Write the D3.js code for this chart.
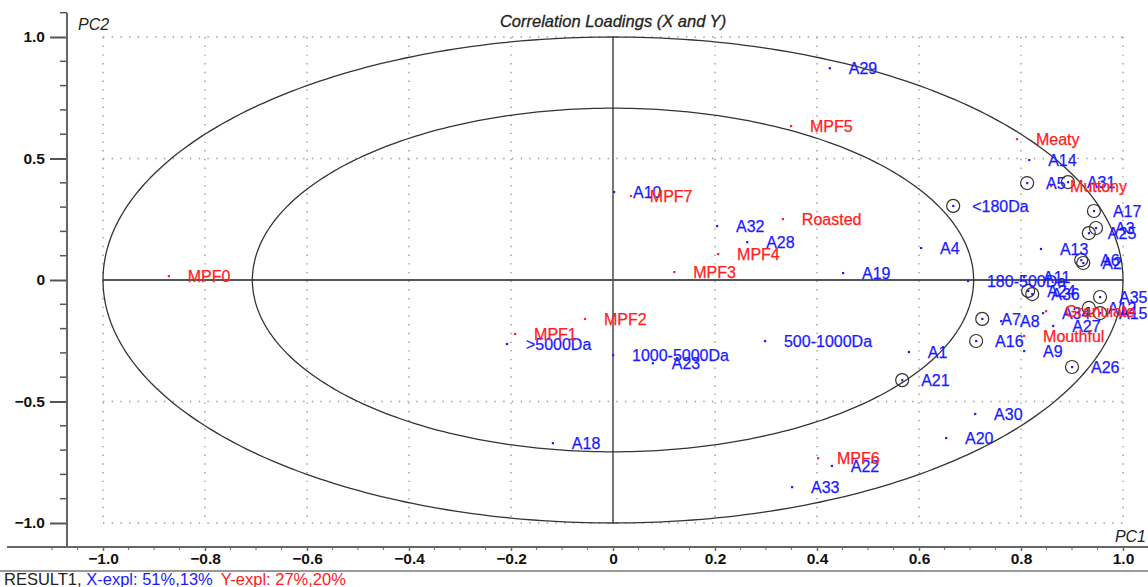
<!DOCTYPE html>
<html>
<head>
<meta charset="utf-8">
<script src="https://cdn.jsdelivr.net/npm/d3@7"></script>
<style>
  body { margin: 0; background: #fff; }
  svg { display: block; font-family: "Liberation Sans", Arial, sans-serif; }
</style>
</head>
<body>
<svg id="chart" width="1148" height="587"></svg>
<script>
// X variables (blue)
const xNames = ['A1','A2','A3','A4','A5','A6','A7','A8','A9','A10','A11','A12','A13','A14','A15','A16','A17','A18',
  'A19','A20','A21','A22','A23','A24','A25','A26','A27','A28','A29','A30','A31','A32','A33','A34','A35','A36',
  '<180Da','180-500Da','500-1000Da','1000-5000Da','>5000Da'];
const xPC1 = [0.580,0.922,0.947,0.604,0.812,0.918,0.724,0.761,0.806,0.002,0.806,0.933,0.839,0.816,0.955,0.712,0.943,-0.118,
  0.451,0.653,0.567,0.429,0.078,0.814,0.933,0.900,0.863,0.263,0.425,0.710,0.892,0.204,0.351,0.843,0.955,0.822,
  0.667,0.696,0.298,0.000,-0.208];
const xPC2 = [-0.296,0.070,0.214,0.132,0.399,0.082,-0.160,-0.169,-0.292,0.362,0.012,-0.115,0.128,0.494,-0.136,-0.251,0.284,-0.671,
  0.029,-0.650,-0.412,-0.765,-0.342,-0.045,0.193,-0.358,-0.189,0.156,0.872,-0.551,0.403,0.222,-0.852,-0.136,-0.070,-0.058,
  0.305,-0.004,-0.251,-0.309,-0.263];
const xCircled = ['A2','A3','A5','A6','A7','A12','A15','A16','A17','A21','A24','A25','A26','A31','A35','A36','<180Da'];

// Y variables (red)
const yNames = ['MPF0','MPF1','MPF2','MPF3','MPF4','MPF5','MPF6','MPF7','Roasted','Meaty','Muttony','Mouthful','Granulate'];
const yPC1 = [-0.871,-0.192,-0.055,0.120,0.206,0.349,0.402,0.035,0.333,0.792,0.859,0.806,0.849];
const yPC2 = [0.016,-0.222,-0.160,0.033,0.107,0.634,-0.733,0.346,0.251,0.580,0.387,-0.230,-0.128];

const xTicks = [-1.0,-0.8,-0.6,-0.4,-0.2,0,0.2,0.4,0.6,0.8,1.0];
const yTicks = [-1.0,-0.5,0,0.5,1.0];

const svg = d3.select('#chart');
const W = 1148, H = 587;
const x = d3.scaleLinear().domain([-1, 1]).range([103, 1123]);
const y = d3.scaleLinear().domain([-1, 1]).range([523, 37]);
const axisX = 67, axisY = 547;

// dotted grid
const grid = svg.append('g').attr('stroke', '#9a9a9a').attr('stroke-width', 1.4)
  .attr('stroke-dasharray', '1.4,7.3').attr('fill', 'none');
grid.selectAll('line.v').data(xTicks.filter(d => d !== 0)).enter().append('line')
  .attr('x1', d => x(d)).attr('x2', d => x(d)).attr('y1', y(1)).attr('y2', y(-1));
grid.selectAll('line.h').data(yTicks.filter(d => d !== 0)).enter().append('line')
  .attr('x1', x(-1)).attr('x2', x(1)).attr('y1', d => y(d)).attr('y2', d => y(d));

// zero lines
svg.append('line').attr('x1', x(-1)).attr('x2', x(1)).attr('y1', y(0)).attr('y2', y(0))
  .attr('stroke', '#555').attr('stroke-width', 2);
svg.append('line').attr('x1', x(0)).attr('x2', x(0)).attr('y1', y(1)).attr('y2', y(-1))
  .attr('stroke', '#555').attr('stroke-width', 1.6);

// correlation ellipses (r = 1 and r = sqrt(0.5))
const ring = r => d3.line().curve(d3.curveLinearClosed)(
  d3.range(0, 360, 1).map(a => [x(r * Math.cos(a * Math.PI / 180)), y(r * Math.sin(a * Math.PI / 180))]));
[1, Math.SQRT1_2].forEach(r => {
  svg.append('path').attr('d', ring(r)).attr('fill', 'none').attr('stroke', '#333').attr('stroke-width', 1.3);
});

// left axis
const yAx = d3.axisLeft(y).tickValues(yTicks).tickFormat(d => d === 0 ? '0' : d3.format('.1f')(d))
  .tickSize(17).tickPadding(5);
const gy = svg.append('g').attr('transform', `translate(${axisX},0)`).call(yAx);
gy.select('.domain').remove();
gy.selectAll('line').attr('stroke', '#555').attr('stroke-width', 2);
gy.selectAll('text').attr('font-size', 15.5).attr('font-weight', 'bold').attr('fill', '#111');
svg.append('g').selectAll('line').data(d3.range(-11, 12).filter(i => i % 5 !== 0)).enter().append('line')
  .attr('x1', axisX - 7).attr('x2', axisX).attr('y1', i => y(i / 10)).attr('y2', i => y(i / 10))
  .filter(function (i) { return y(i / 10) > 8 && y(i / 10) < axisY; })
  .attr('stroke', '#555').attr('stroke-width', 1.5);
svg.append('line').attr('x1', axisX).attr('x2', axisX).attr('y1', 13).attr('y2', axisY)
  .attr('stroke', '#666').attr('stroke-width', 2);

// bottom axis
const xAx = d3.axisBottom(x).tickValues(xTicks).tickFormat(d => d === 0 ? '0' : d3.format('.1f')(d))
  .tickSize(4).tickPadding(2);
const gx = svg.append('g').attr('transform', `translate(0,${axisY})`).call(xAx);
gx.select('.domain').remove();
gx.selectAll('line').attr('stroke', '#666').attr('stroke-width', 1.5);
gx.selectAll('text').attr('font-size', 15.5).attr('font-weight', 'bold').attr('fill', '#111');
svg.append('g').selectAll('line').data(d3.range(-22, 22).filter(i => i % 4 !== 0)).enter().append('line')
  .attr('x1', i => x(i / 20)).attr('x2', i => x(i / 20)).attr('y1', axisY).attr('y2', axisY + 3)
  .attr('stroke', '#777').attr('stroke-width', 1.2);
svg.append('line').attr('x1', 7).attr('x2', W).attr('y1', axisY).attr('y2', axisY)
  .attr('stroke', '#666').attr('stroke-width', 2);

// footer separator and explained variance text
svg.append('line').attr('x1', 0).attr('x2', W).attr('y1', 571).attr('y2', 571)
  .attr('stroke', '#999').attr('stroke-width', 2);
const foot = svg.append('text').attr('x', 4).attr('y', 585).attr('font-size', 16.5);
foot.append('tspan').attr('fill', '#222').text('RESULT1, ');
foot.append('tspan').attr('fill', '#1a1aff').text('X-expl: 51%,13%');
foot.append('tspan').attr('fill', '#ff2020').attr('dx', 8).text('Y-expl: 27%,20%');

// titles
svg.append('text').attr('x', 613).attr('y', 27).attr('text-anchor', 'middle').attr('font-size', 16.5)
  .attr('font-style', 'italic').attr('fill', '#222').attr('stroke', '#222').attr('stroke-width', 0.3)
  .text('Correlation Loadings (X and Y)');
svg.append('text').attr('x', 78).attr('y', 30).attr('font-size', 16).attr('font-style', 'italic')
  .attr('fill', '#222').text('PC2');
svg.append('text').attr('x', 1146).attr('y', 542).attr('text-anchor', 'end').attr('font-size', 16)
  .attr('font-style', 'italic').attr('fill', '#222').text('PC1');

// points
const xData = xNames.map((n, i) => ({ name: n, pc1: xPC1[i], pc2: xPC2[i], circ: xCircled.includes(n) }));
const yData = yNames.map((n, i) => ({ name: n, pc1: yPC1[i], pc2: yPC2[i] }));

svg.append('g').selectAll('circle').data(xData.filter(d => d.circ)).enter().append('circle')
  .attr('cx', d => x(d.pc1)).attr('cy', d => y(d.pc2)).attr('r', 6.5)
  .attr('fill', 'none').attr('stroke', '#333').attr('stroke-width', 1.2);

function drawSet(data, color) {
  const g = svg.append('g');
  g.selectAll('rect').data(data).enter().append('rect')
    .attr('x', d => x(d.pc1) - 1).attr('y', d => y(d.pc2) - 1).attr('width', 2.2).attr('height', 2.2)
    .attr('fill', color);
  g.selectAll('text').data(data).enter().append('text')
    .attr('x', d => x(d.pc1) + 19).attr('y', d => y(d.pc2)).attr('dy', '0.36em')
    .attr('font-size', 16).attr('fill', color).attr('stroke', color).attr('stroke-width', 0.25)
    .text(d => d.name);
}
drawSet(xData, '#1a1aff');
drawSet(yData, '#ff2020');
</script>
</body>
</html>
